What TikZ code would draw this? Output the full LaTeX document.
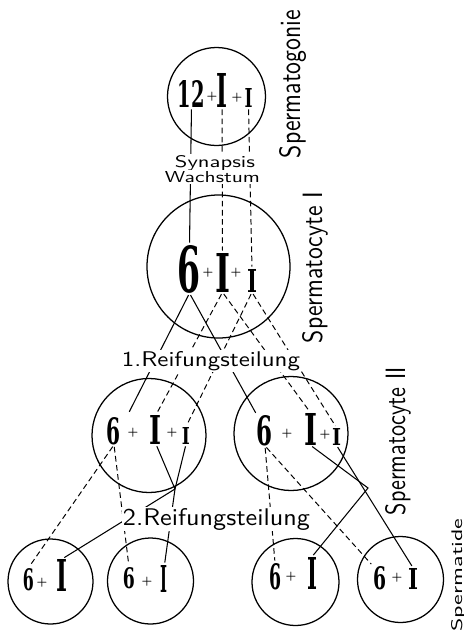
\documentclass[tikz,border=0pt]{standalone}
\usepackage{fontspec}
\usetikzlibrary{calc}

\newfontfamily\chromfont{DejaVu Serif}
\newdimen\px \px=0.7113pt
\newcommand{\fitbox}[3]{\resizebox{#1\px}{#2\px}{#3}}

\begin{document}
\begin{tikzpicture}[x=0.025cm, y=-0.025cm,
  cell/.style={line width=0.9pt},
  chrom/.style={inner sep=0pt, anchor=base, font=\chromfont\bfseries},
  plus/.style={inner sep=0pt, font=\bfseries\fontsize{8}{8}\selectfont},
  chromline/.style={line width=0.75pt, shorten <=1.5pt, shorten >=1.5pt},
  chromdash/.style={line width=0.7pt, dash pattern=on 4pt off 2.5pt, shorten <=1.5pt, shorten >=1.5pt},
  phase/.style={inner sep=1pt, anchor=base, fill=white, font=\sffamily},
  stage/.style={inner sep=0pt, anchor=base, rotate=90, font=\sffamily}]
  \useasboundingbox (0,0) rectangle (464,633);

  % cells
  \draw[cell] (216.5,96.5) circle (49);
  \draw[cell] (218.5,266.5) circle (71.5);
  \draw[cell] (149,435.5) circle (57);
  \draw[cell] (291,433.5) circle (57);
  \draw[cell] (50.5,581.5) circle (42.5);
  \draw[cell] (150.5,581) circle (43);
  \draw[cell] (295.5,582) circle (43.5);
  \draw[cell] (400.5,579.5) circle (43);

  % Spermatogonie
  \node[chrom] (g12) at (191.5,107) {\fitbox{27}{27}{12}};
  \node[plus] (gp1) at (212,97) {+};
  \node[chrom] (gX) at (222,107) {\fitbox{11}{34}{I}};
  \node[plus] (gp2) at (237,98) {+};
  \node[chrom] (gY) at (248.5,107) {\fitbox{8}{19}{I}};

  % Spermatocyte I
  \node[chrom] (c6) at (189.5,292) {\fitbox{23}{47}{6}};
  \node[plus] (cp1) at (208,273) {+};
  \node[chrom] (cX) at (222.5,292) {\fitbox{15}{39}{I}};
  \node[plus] (cp2) at (236,273) {+};
  \node[chrom] (cY) at (252,292) {\fitbox{10}{23}{I}};

  % Spermatocyte II
  \node[chrom] (l6) at (114,444) {\fitbox{14}{27}{6}};
  \node[plus] (lp1) at (133,433) {+};
  \node[chrom] (lX) at (156,444) {\fitbox{12}{29}{I}};
  \node[plus] (lp2) at (172,433) {+};
  \node[chrom] (lY) at (186,444) {\fitbox{8}{17}{I}};

  \node[chrom] (r6) at (265,445) {\fitbox{16}{30}{6}};
  \node[plus] (rp1) at (287,434) {+};
  \node[chrom] (rX) at (310.5,445) {\fitbox{13}{32}{I}};
  \node[plus] (rp2) at (325,435) {+};
  \node[chrom] (rY) at (336.5,445) {\fitbox{9}{17}{I}};

  % Spermatiden
  \node[chrom] (t1s) at (28.5,590) {\fitbox{11}{22}{6}};
  \node[plus] (t1p) at (42,583) {+};
  \node[chrom] (t1X) at (62.5,591) {\fitbox{11}{32}{I}};
  \node[chrom] (t2s) at (129,588) {\fitbox{12}{21}{6}};
  \node[plus] (t2p) at (147,582) {+};
  \node[chrom] (t2Y) at (164.5,592) {\fitbox{7}{27}{I}};
  \node[chrom] (t3s) at (275,589) {\fitbox{12}{26}{6}};
  \node[plus] (t3p) at (291,577) {+};
  \node[chrom] (t3X) at (312,589) {\fitbox{10}{32}{I}};
  \node[chrom] (t4s) at (379.5,589) {\fitbox{13}{23}{6}};
  \node[plus] (t4p) at (397,578) {+};
  \node[chrom] (t4Y) at (413,589) {\fitbox{10}{21}{I}};

  % Synapsis und Wachstum
  \draw[chromline] (g12.south) -- (c6.north);
  \draw[chromdash] (gX.south) -- (cX.north);
  \draw[chromdash] (gY.south) -- (cY.north);

  % 1. Teilung
  \draw[chromline] (c6.south) -- ($(l6.north east)+(7,-3)$);
  \draw[chromline] (c6.south) -- (r6.north west);
  \draw[chromdash] (cX.south) -- (lX.north);
  \draw[chromdash] (cX.south) -- (rX.north);
  \draw[chromdash] (cY.south) -- (lY.north);
  \draw[chromdash] (cY.south) -- (rY.north);

  % 2. Teilung
  \coordinate (lcross) at (175,489);
  \coordinate (rcross) at (368,488);
  \draw[chromline] (lX.south) -- (lcross) -- (t1X.north);
  \draw[chromline] (lY.south) -- (lcross) -- (t2Y.north);
  \draw[chromdash] (l6.south) -- (t1s.north);
  \draw[chromdash] (l6.south) -- (t2s.north);
  \draw[chromline] (rX.south) -- (rcross) -- (t3X.north);
  \draw[chromline] (rY.south) -- (t4Y.north);
  \draw[chromdash] (r6.south) -- (t3s.north);
  \draw[chromdash] (r6.south) -- (t4s.north west);

  % Beschriftung
  \node[phase] (syn) at (215,167) {\fitbox{80}{12}{Synapsis}};
  \node[phase] (wachs) at (212.5,182) {\fitbox{95}{11}{Wachstum}};
  \node[phase] (reif1) at (211,366) {\fitbox{178}{15}{1.Reifungsteilung}};
  \node[phase] (reif2) at (216.5,525) {\fitbox{187}{17}{2.Reifungsteilung}};

  \node[stage] (gonie) at (300,84) {\fitbox{148}{21}{Spermatogonie}};
  \node[stage] (cyteI) at (322,267.5) {\fitbox{151}{20}{Spermatocyte I}};
  \node[stage] (cyteII) at (405,441) {\fitbox{148}{20}{Spermatocyte II}};
  \node[stage] (tide) at (462,575) {\fitbox{113}{11}{Spermatide}};
\end{tikzpicture}
\end{document}
